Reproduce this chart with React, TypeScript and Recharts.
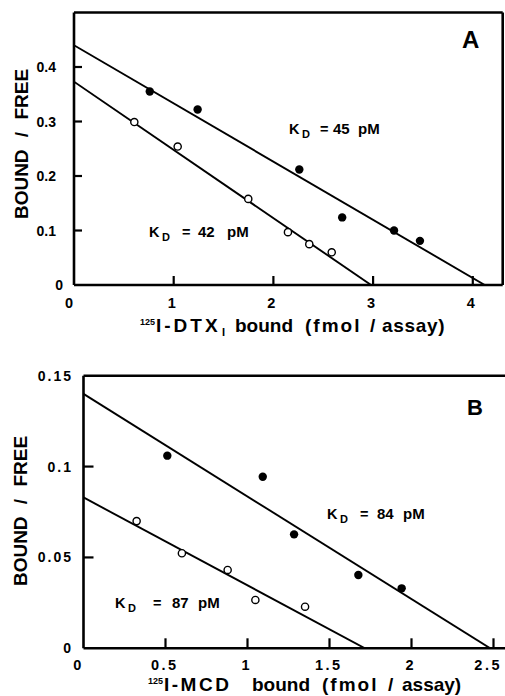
import { ComposedChart, Scatter, Line, XAxis, YAxis, ReferenceLine, ReferenceDot } from 'recharts';

// Panel A: 125I-DTX binding (x = fmol/assay, y = bound/free)
const dtxFilledX = [0.76, 1.24, 2.26, 2.69, 3.21, 3.47];
const dtxFilledY = [0.355, 0.322, 0.212, 0.124, 0.1, 0.081];
const dtxOpenX = [0.605, 1.04, 1.748, 2.146, 2.36, 2.585];
const dtxOpenY = [0.299, 0.254, 0.158, 0.097, 0.075, 0.06];
// regression lines: [intercept on y, intercept on x]
const dtxFilledFit = [0.44, 4.12];
const dtxOpenFit = [0.373, 2.98];
const dtxXTicks = [0, 1, 2, 3, 4];
const dtxYTicks = [0, 0.1, 0.2, 0.3, 0.4];

// Panel B: 125I-MCD binding
const mcdFilledX = [0.511, 1.093, 1.284, 1.676, 1.94];
const mcdFilledY = [0.106, 0.0944, 0.0627, 0.0403, 0.033];
const mcdOpenX = [0.324, 0.6, 0.879, 1.048, 1.351];
const mcdOpenY = [0.07, 0.0523, 0.0431, 0.0266, 0.0229];
const mcdFilledFit = [0.14, 2.48];
const mcdOpenFit = [0.083, 1.716];
const mcdXTicks = [0, 0.5, 1, 1.5, 2, 2.5];
const mcdYTicks = [0, 0.05, 0.1, 0.15];

const FONT = '"Liberation Sans", Arial, Helvetica, sans-serif';

const toPoints = (xs: number[], ys: number[]) => xs.map((x, i) => ({ x, y: ys[i] }));
const toLine = (fit: number[]) => [{ x: 0, y: fit[0] }, { x: fit[1], y: 0 }];

const FilledDot = (p: any) => <circle cx={p.cx} cy={p.cy} r={4.2} fill="#000" />;
const OpenDot = (p: any) => <circle cx={p.cx} cy={p.cy} r={3.6} fill="#fff" stroke="#000" strokeWidth={1.4} />;

function makeXTick(labelY: number, spacing: number) {
  return (props: any) => {
    const { x, payload } = props;
    const v = payload.value;
    // keep the last label inside the page edge
    const nearEdge = x > 480;
    return (
      <text x={v === 0 ? x - 5 : nearEdge ? 502 : x - 2 + spacing / 2} y={labelY}
        textAnchor={nearEdge ? 'end' : 'middle'} fontFamily={FONT}
        fontWeight="bold" fontSize={14.5} letterSpacing={spacing} fill="#000">{String(v)}</text>
    );
  };
}

function makeYTick(labelRight: number, zeroRight: number, size: number, spacing: number) {
  return (props: any) => {
    const { y, payload } = props;
    const v = payload.value;
    return (
      <text x={v === 0 ? zeroRight : labelRight} y={y + 5} textAnchor="end" fontFamily={FONT}
        fontWeight="bold" fontSize={size} letterSpacing={spacing} fill="#000">{String(v)}</text>
    );
  };
}

// inward tick on the x axis, placed by the chart's scales
const upTick = (len: number) => (p: any) => (
  <line x1={p.cx} x2={p.cx} y1={p.cy} y2={p.cy - len} stroke="#000" strokeWidth={2.2} />
);

function Panel({ width, height, margin, xMax, yMax, xTicks, yTicks, filled, open, fitFilled, fitOpen, xTick, yTick, xLen, yLen, plotW }: any) {
  const xInner = xTicks.filter((t: number) => t !== 0 && t !== xMax);
  const yInner = yTicks.filter((t: number) => t !== 0 && t !== yMax);
  const yTickLen = (yLen / plotW) * xMax;
  const frame = { stroke: '#000', strokeWidth: 2.6, ifOverflow: 'visible' as const };
  return (
    <ComposedChart width={width} height={height} margin={margin}>
      <XAxis type="number" dataKey="x" domain={[0, xMax]} ticks={xTicks} allowDataOverflow
        axisLine={false} tickLine={false} height={30} tick={xTick} interval={0} />
      <YAxis type="number" dataKey="y" domain={[0, yMax]} ticks={yTicks} allowDataOverflow
        axisLine={false} tickLine={false} width={60} tick={yTick} interval={0} />
      <ReferenceLine x={0} {...frame} />
      <ReferenceLine x={xMax} {...frame} />
      <ReferenceLine y={0} {...frame} />
      <ReferenceLine y={yMax} {...frame} />
      {xInner.map((t: number) => (
        <ReferenceDot key={'x' + t} x={t} y={0} ifOverflow="visible" shape={upTick(xLen)} />
      ))}
      {yInner.map((t: number) => (
        <ReferenceLine key={'y' + t} segment={[{ x: 0, y: t }, { x: yTickLen, y: t }]} stroke="#000" strokeWidth={2.2} />
      ))}
      <Line data={toLine(fitFilled)} dataKey="y" stroke="#000" strokeWidth={1.9} dot={false} isAnimationActive={false} type="linear" />
      <Line data={toLine(fitOpen)} dataKey="y" stroke="#000" strokeWidth={1.9} dot={false} isAnimationActive={false} type="linear" />
      <Scatter data={filled} dataKey="y" shape={FilledDot} isAnimationActive={false} />
      <Scatter data={open} dataKey="y" shape={OpenDot} isAnimationActive={false} />
    </ComposedChart>
  );
}

function KD({ x, y, value, offs }: { x: number; y: number; value: string; offs: number[] }) {
  const st = { fontFamily: FONT, fontWeight: 'bold' as const, fill: '#000' };
  return (
    <g>
      <text x={x + offs[0]} y={y} fontSize={14.5} {...st}>K</text>
      <text x={x + offs[1]} y={y + 4} fontSize={11} {...st}>D</text>
      <text x={x + offs[2]} y={y} fontSize={14.5} {...st}>=</text>
      <text x={x + offs[3]} y={y} fontSize={15} {...st}>{value}</text>
      <text x={x + offs[4]} y={y} fontSize={15} {...st}>pM</text>
    </g>
  );
}

export default function App() {
  const big = { fontFamily: FONT, fontWeight: 'bold' as const, fill: '#000', fontSize: 19 };
  const small = { fontFamily: FONT, fontWeight: 'bold' as const, fill: '#000', fontSize: 9 };
  return (
    <div style={{ position: 'absolute', left: 0, top: 0, width: 505, height: 696, overflow: 'hidden', background: '#fff' }}>
      <div style={{ position: 'absolute', left: 0, top: 0 }}>
        <Panel width={505} height={340} margin={{ top: 12.5, right: 2.3, bottom: 25, left: 14 }}
          xMax={4.3} yMax={0.5} xTicks={dtxXTicks} yTicks={dtxYTicks} plotW={428.7}
          filled={toPoints(dtxFilledX, dtxFilledY)} open={toPoints(dtxOpenX, dtxOpenY)}
          fitFilled={dtxFilledFit} fitOpen={dtxOpenFit} xLen={9} yLen={8}
          xTick={makeXTick(308, 0)} yTick={makeYTick(56, 63, 14, 0)} />
      </div>
      <div style={{ position: 'absolute', left: 0, top: 340 }}>
        <Panel width={512} height={356} margin={{ top: 35.7, right: 2.1, bottom: 17.7, left: 23.5 }}
          xMax={2.6} yMax={0.15} xTicks={mcdXTicks} yTicks={mcdYTicks} plotW={426.4}
          filled={toPoints(mcdFilledX, mcdFilledY)} open={toPoints(mcdOpenX, mcdOpenY)}
          fitFilled={mcdFilledFit} fitOpen={mcdOpenFit} xLen={10} yLen={10}
          xTick={makeXTick(330, 2.5)} yTick={makeYTick(73, 73, 14, 2)} />
      </div>
      <svg width={505} height={696} style={{ position: 'absolute', left: 0, top: 0, pointerEvents: 'none' }}>
        {/* panel A annotations */}
        <text x={462} y={48} fontSize={24} fontFamily={FONT} fontWeight="bold">A</text>
        <KD x={289} y={134} value="45" offs={[0, 13, 31, 44, 69]} />
        <KD x={149} y={237} value="42" offs={[0, 13, 33, 49, 78]} />
        <text transform="rotate(-90 28 144)" x={28} y={144} textAnchor="middle" wordSpacing={7} {...big}>BOUND / FREE</text>
        <text x={140} y={325} {...small}>125</text>
        <text x={156} y={332} letterSpacing={3} {...big}>I-DTX</text>
        <text x={222} y={336} {...small} fontSize={11}>I</text>
        <text x={235} y={332} {...big}>bound</text>
        <text x={305} y={332} letterSpacing={2} {...big}>(fmol</text>
        <text x={370} y={332} {...big}>/</text>
        <text x={382} y={332} letterSpacing={0.7} {...big}>assay)</text>
        {/* panel B annotations */}
        <text x={467} y={415} fontSize={22} fontFamily={FONT} fontWeight="bold">B</text>
        <KD x={327} y={519} value="84" offs={[0, 13, 33, 50, 76]} />
        <KD x={115} y={608} value="87" offs={[0, 13, 38, 57, 83]} />
        <text transform="rotate(-90 27 511)" x={27} y={511} textAnchor="middle" wordSpacing={7} {...big}>BOUND / FREE</text>
        <text x={148} y={684} {...small}>125</text>
        <text x={164} y={691} letterSpacing={2.5} {...big}>I-MCD</text>
        <text x={252} y={691} {...big}>bound</text>
        <text x={322} y={691} letterSpacing={2} {...big}>(fmol</text>
        <text x={388} y={691} {...big}>/</text>
        <text x={402} y={691} {...big}>assay)</text>
      </svg>
    </div>
  );
}
